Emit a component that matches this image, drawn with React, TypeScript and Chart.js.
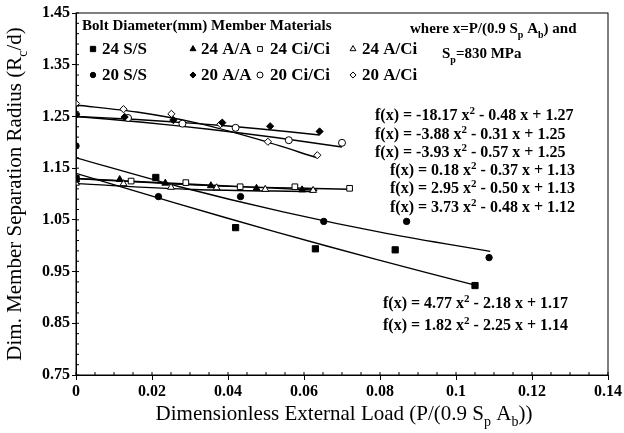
import React, { useEffect, useRef } from 'react';
import { Chart, registerables } from 'chart.js';
import { drawPoint } from 'chart.js/helpers';

Chart.register(...registerables);

const FONT = '"Liberation Serif", "Times New Roman", serif';

// ---- Data ----
const seriesNames = ['24 S/S', '24 A/A', '24 Ci/Ci', '24 A/Ci', '20 S/S', '20 A/A', '20 Ci/Ci', '20 A/Ci'];

const x24SS = [0, 0.021, 0.042, 0.063, 0.084, 0.105];
const y24SS = [1.13, 1.132, 1.035, 0.994, 0.992, 0.923];
const x24AA = [0, 0.0115, 0.0235, 0.0355, 0.0475, 0.0595];
const y24AA = [1.127, 1.128, 1.121, 1.116, 1.111, 1.108];
const x24CC = [0, 0.0145, 0.0289, 0.0432, 0.0576, 0.072];
const y24CC = [1.13, 1.125, 1.122, 1.114, 1.114, 1.111];
const x24AC = [0, 0.0125, 0.025, 0.037, 0.0498, 0.0624];
const y24AC = [1.121, 1.12, 1.113, 1.112, 1.109, 1.107];
const x20SS = [0, 0.0217, 0.0433, 0.0652, 0.087, 0.1087];
const y20SS = [1.193, 1.095, 1.095, 1.047, 1.047, 0.977];
const x20AA = [0, 0.0128, 0.0256, 0.0385, 0.0511, 0.0641];
const y20AA = [1.254, 1.249, 1.243, 1.238, 1.231, 1.221];
const x20CC = [0, 0.0137, 0.028, 0.042, 0.056, 0.07];
const y20CC = [1.254, 1.247, 1.236, 1.228, 1.204, 1.199];
const x20AC = [0, 0.0125, 0.0251, 0.038, 0.0505, 0.0635];
const y20AC = [1.275, 1.264, 1.255, 1.235, 1.201, 1.175];

// Fitted curves
const fx20AC = [0, 0.016, 0.032, 0.048, 0.0635];
const fy20AC = [1.272, 1.2585, 1.237, 1.2055, 1.170];
const fx20AA = [0, 0.016, 0.032, 0.048, 0.0641];
const fy20AA = [1.25, 1.244, 1.2361, 1.2262, 1.2142];
const fx20CC = [0, 0.0175, 0.035, 0.0525, 0.07];
const fy20CC = [1.25, 1.2388, 1.2252, 1.2092, 1.1908];
const fx24AA = [0, 0.032, 0.0635];
const fy24AA = [1.13, 1.1183, 1.1072];
const fx24CC = [0, 0.036, 0.072];
const fy24CC = [1.13, 1.1158, 1.1093];
const fx24AC = [0, 0.031, 0.0624];
const fy24AC = [1.12, 1.1087, 1.1046];
const fx20SS = [0, 0.027, 0.0545, 0.082, 0.109];
const fy20SS = [1.17, 1.1146, 1.0654, 1.0233, 0.9891];
const fx24SS = [0, 0.026, 0.0525, 0.079, 0.105];
const fy24SS = [1.14, 1.0827, 1.0269, 0.9736, 0.9238];

// Equation coefficients as printed (a x^2 + b x + c), in printed order
const eqA = [-18.17, -3.88, -3.93, 0.18, 2.95, 3.73, 4.77, 1.82];
const eqB = [-0.48, -0.31, -0.57, -0.37, -0.5, -0.48, -2.18, -2.25];
const eqC = [1.27, 1.25, 1.25, 1.13, 1.13, 1.12, 1.17, 1.14];

const xTicks = [0, 0.02, 0.04, 0.06, 0.08, 0.1, 0.12, 0.14];
const yTicks = [0.75, 0.85, 0.95, 1.05, 1.15, 1.25, 1.35, 1.45];

const legendTitle = 'Bolt Diameter(mm) Member Materials';

const pts = (xs: number[], ys: number[]) => xs.map((x, i) => ({ x, y: ys[i] }));

const pointSets = [
  pts(x24SS, y24SS), pts(x24AA, y24AA), pts(x24CC, y24CC), pts(x24AC, y24AC),
  pts(x20SS, y20SS), pts(x20AA, y20AA), pts(x20CC, y20CC), pts(x20AC, y20AC),
];
const fitSets = [
  pts(fx24SS, fy24SS), pts(fx24AA, fy24AA), pts(fx24CC, fy24CC), pts(fx24AC, fy24AC),
  pts(fx20SS, fy20SS), pts(fx20AA, fy20AA), pts(fx20CC, fy20CC), pts(fx20AC, fy20AC),
];

const styles = ['rect', 'triangle', 'rect', 'triangle', 'circle', 'rectRot', 'circle', 'rectRot'];
const filled = [true, true, false, false, true, true, false, false];
const radii = [4.4, 4, 4, 4, 3.2, 3.6, 3.5, 3.6];

type Seg = [string, number];

function drawRich(ctx: CanvasRenderingContext2D, segs: Seg[], x: number, y: number, size: number, weight: string, align: string) {
  const small = Math.round(size * 0.68);
  let total = 0;
  const widths = segs.map(([t, m]) => {
    ctx.font = `${weight} ${m === 0 ? size : small}px ${FONT}`;
    const w = ctx.measureText(t).width;
    total += w;
    return w;
  });
  let cx = align === 'center' ? x - total / 2 : x;
  ctx.textBaseline = 'alphabetic';
  ctx.textAlign = 'left';
  segs.forEach(([t, m], i) => {
    ctx.font = `${weight} ${m === 0 ? size : small}px ${FONT}`;
    const dy = m === 1 ? size * 0.3 : m === 2 ? -size * 0.38 : 0;
    ctx.fillText(t, cx, y + dy);
    cx += widths[i];
  });
}

function eqSegs(i: number): Seg[] {
  const a = eqA[i], b = eqB[i], c = eqC[i];
  return [
    [`f(x) = ${a.toFixed(2)} x`, 0],
    ['2', 2],
    [` ${b < 0 ? '-' : '+'} ${Math.abs(b).toFixed(2)} x ${c < 0 ? '-' : '+'} ${Math.abs(c).toFixed(2)}`, 0],
  ];
}

const decorPlugin = {
  id: 'decor',
  afterDraw(chart: any) {
    const ctx: CanvasRenderingContext2D = chart.ctx;
    const area = chart.chartArea;
    const xs = chart.scales.x, ys = chart.scales.y;
    ctx.save();
    ctx.strokeStyle = '#000';
    ctx.fillStyle = '#000';
    ctx.lineWidth = 1;
    ctx.strokeRect(area.left, area.top, area.right - area.left, area.bottom - area.top);

    // minor ticks
    ctx.beginPath();
    for (let k = 0; k <= 35; k++) {
      const v = 0.75 + k * 0.02;
      const p = ys.getPixelForValue(v);
      ctx.moveTo(area.left, p);
      ctx.lineTo(area.left + 3, p);
    }
    for (let k = 0; k <= 28; k++) {
      const v = k * 0.005;
      const p = xs.getPixelForValue(v);
      ctx.moveTo(p, area.bottom);
      ctx.lineTo(p, area.bottom - 3);
    }
    ctx.stroke();

    // axis titles
    drawRich(ctx, [['Dimensionless External Load (P/(0.9 S', 0], ['p', 1], [' A', 0], ['b', 1], ['))', 0]],
      (area.left + area.right) / 2 + 2, 420, 21, 'normal', 'center');
    ctx.save();
    ctx.translate(21, (area.top + area.bottom) / 2);
    ctx.rotate(-Math.PI / 2);
    drawRich(ctx, [['Dim. Member Separation Radius (R', 0], ['c', 1], ['/d)', 0]], 0, 0, 21, 'normal', 'center');
    ctx.restore();

    // legend
    ctx.textBaseline = 'middle';
    ctx.textAlign = 'left';
    ctx.font = `bold 15px ${FONT}`;
    ctx.fillText(legendTitle, 82, 26);
    const mx = [93, 193, 260, 353];
    const tx = [102, 201, 270, 362];
    const ry = [49, 75];
    seriesNames.forEach((name, i) => {
      const col = i % 4, row = Math.floor(i / 4);
      ctx.fillStyle = filled[i] ? '#000' : '#fff';
      ctx.strokeStyle = '#000';
      ctx.lineWidth = 1;
      drawPoint(ctx, { pointStyle: styles[i], radius: radii[i] * 0.85, borderWidth: 1, rotation: 0 } as any, mx[col], ry[row]);
      ctx.fillStyle = '#000';
      ctx.font = `bold 17px ${FONT}`;
      ctx.textBaseline = 'middle';
      ctx.fillText(name, tx[col], ry[row] + 1);
    });

    // note
    drawRich(ctx, [['where x=P/(0.9 S', 0], ['p', 1], [' A', 0], ['b', 1], [') and', 0]], 410, 33, 15, 'bold', 'left');
    drawRich(ctx, [['S', 0], ['p', 1], ['=830 MPa', 0]], 442, 58, 15, 'bold', 'left');

    // equations
    const ex = [375, 375, 375, 390, 390, 390, 383, 383];
    const ey = [120, 139, 157, 175, 193, 212, 308, 330];
    for (let i = 0; i < 8; i++) {
      drawRich(ctx, eqSegs(i), ex[i], ey[i], 16, 'bold', 'left');
    }
    ctx.restore();
  },
};

export default function App() {
  const ref = useRef<HTMLCanvasElement>(null);
  useEffect(() => {
    if (!ref.current) return;
    const datasets: any[] = [];
    pointSets.forEach((d, i) => {
      datasets.push({
        type: 'scatter',
        label: seriesNames[i],
        data: d,
        showLine: false,
        pointStyle: styles[i],
        pointRadius: radii[i],
        pointBackgroundColor: filled[i] ? '#000' : '#fff',
        pointBorderColor: '#000',
        pointBorderWidth: 1,
        order: 0,
      });
    });
    fitSets.forEach((d, i) => {
      datasets.push({
        type: 'line',
        label: 'fit ' + seriesNames[i],
        data: d,
        showLine: true,
        borderColor: '#000',
        borderWidth: 1.4,
        pointRadius: 0,
        tension: 0.3,
        fill: false,
        order: 1,
      });
    });
    const chart = new Chart(ref.current, {
      type: 'scatter',
      data: { datasets },
      options: {
        responsive: false,
        animation: false,
        events: [],
        layout: { padding: { left: 0, right: 15, top: 13, bottom: 0 } },
        plugins: { legend: { display: false }, tooltip: { enabled: false } },
        scales: {
          x: {
            type: 'linear',
            min: 0,
            max: 0.14,
            afterBuildTicks: (s: any) => { s.ticks = xTicks.map((v) => ({ value: v })); },
            afterFit: (s: any) => { s.height = 58; },
            ticks: {
              callback: (v: any) => String(parseFloat(Number(v).toFixed(2))),
              color: '#000',
              font: { family: FONT, size: 16, weight: 'bold' },
              padding: 2,
              maxRotation: 0,
            },
            grid: { display: true, drawOnChartArea: false, drawTicks: true, tickLength: 5, color: '#000' },
            border: { display: true, color: '#000', width: 1 },
          },
          y: {
            type: 'linear',
            min: 0.75,
            max: 1.45,
            afterBuildTicks: (s: any) => { s.ticks = yTicks.map((v) => ({ value: v })); },
            afterFit: (s: any) => { s.width = 76; },
            ticks: {
              callback: (v: any) => Number(v).toFixed(2),
              color: '#000',
              font: { family: FONT, size: 16, weight: 'bold' },
              padding: 2,
            },
            grid: { display: true, drawOnChartArea: false, drawTicks: true, tickLength: 4, color: '#000' },
            border: { display: true, color: '#000', width: 1 },
          },
        },
      },
      plugins: [decorPlugin],
    } as any);
    return () => chart.destroy();
  }, []);
  return (
    <div style={{ position: 'fixed', left: 0, top: 0, width: 624, height: 433, background: '#fff' }}>
      <canvas ref={ref} width={624} height={433} style={{ display: 'block', width: 624, height: 433 }} />
    </div>
  );
}
